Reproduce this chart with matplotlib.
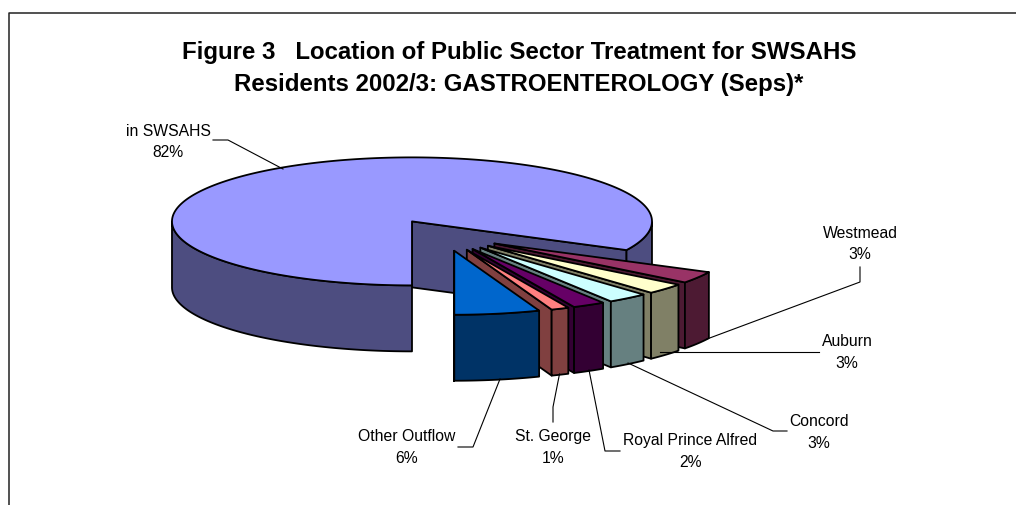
import matplotlib
matplotlib.use("Agg")
import matplotlib.pyplot as plt
import numpy as np

plt.rcParams['font.family'] = ['Liberation Sans', 'DejaVu Sans']

# clockwise from the bottom of the pie
names = ["in SWSAHS", "Westmead", "Auburn", "Concord", "Royal Prince Alfred", "St. George", "Other Outflow"]
values = [82.4, 3.0, 2.7, 2.75, 2.2, 1.2, 5.75]
top_colors = ["#9999FF", "#993366", "#FFFFCC", "#CCFFFF", "#660066", "#FF8080", "#0066CC"]
side_colors = ["#4D4D80", "#4D1A33", "#808066", "#668080", "#330033", "#804040", "#003366"]

# label centre and leader line for each slice, in pixels
label_pos = [(168, 131), (860, 233), (847, 342), (819, 422), (690.5, 441), (553, 437), (407, 437)]
leaders = [
    [(213, 141), (228, 141), (283, 170)],
    [(860, 268), (860, 283), (707, 340)],
    [(819, 353), (660, 353)],
    [(787, 432), (773, 432), (628, 364)],
    [(620, 452), (605, 452), (589, 371)],
    [(553, 423), (553, 408), (559.5, 375)],
    [(458, 448), (473, 448), (500, 380)],
]

cx, cy = 443.5, 236
rx, ry = 240, 64
depth = 66
explode = 0.25
lw = 1.3

fig = plt.figure(figsize=(10.16, 5.06), dpi=100)
ax = fig.add_axes([0, 0, 1, 1])
ax.set_xlim(0, 1016)
ax.set_ylim(506, 0)
ax.axis("off")


def rim(x0, y0, t):
    return x0 + rx * np.cos(t), y0 - ry * np.sin(t)


def poly(xs, ys, color):
    ax.fill(xs, ys, facecolor=color, edgecolor="black", linewidth=lw, joinstyle="round")


start = -90.0
for val, top, side in zip(values, top_colors, side_colors):
    end = start - val * 3.6
    mid = np.radians((start + end) / 2)
    x0 = cx + explode * rx * np.cos(mid)
    y0 = cy - explode * ry * np.sin(mid)
    t = np.radians(np.linspace(start, end, 400))
    xs, ys = rim(x0, y0, t)

    # cut face on the clockwise side
    poly([x0, xs[-1], xs[-1], x0], [y0, ys[-1], ys[-1] + depth, y0 + depth], side)

    # outer wall, only the part facing the viewer
    front = np.sin(t) <= 0
    edges = np.flatnonzero(np.diff(front.astype(int)))
    for part in np.split(np.arange(len(t)), edges + 1):
        if front[part[0]] and len(part) > 1:
            poly(np.r_[xs[part], xs[part][::-1]], np.r_[ys[part], ys[part][::-1] + depth], side)

    poly(np.r_[x0, xs], np.r_[y0, ys], top)
    start = end

for line in leaders:
    ax.plot([p[0] for p in line], [p[1] for p in line], color="black", linewidth=0.8)

for name, val, (lx, ly) in zip(names, values, label_pos):
    ax.text(lx, ly, name, ha="center", va="center", fontsize=11.3, color="black")
    ax.text(lx, ly + 21.5, f"{round(val)}%", ha="center", va="center", fontsize=11.3, color="black")

ax.text(519, 52, "Figure 3   Location of Public Sector Treatment for SWSAHS",
        ha="center", va="center", fontsize=17.3, fontweight="bold")
ax.text(519, 84, "Residents 2002/3: GASTROENTEROLOGY (Seps)*",
        ha="center", va="center", fontsize=17.3, fontweight="bold")

# chart frame runs off the bottom and right of the image
ax.plot([9, 9, 1016], [506, 13.5, 13.5], color="#222222", linewidth=1.1, clip_on=False)

fig.savefig("out.png", dpi=100)
